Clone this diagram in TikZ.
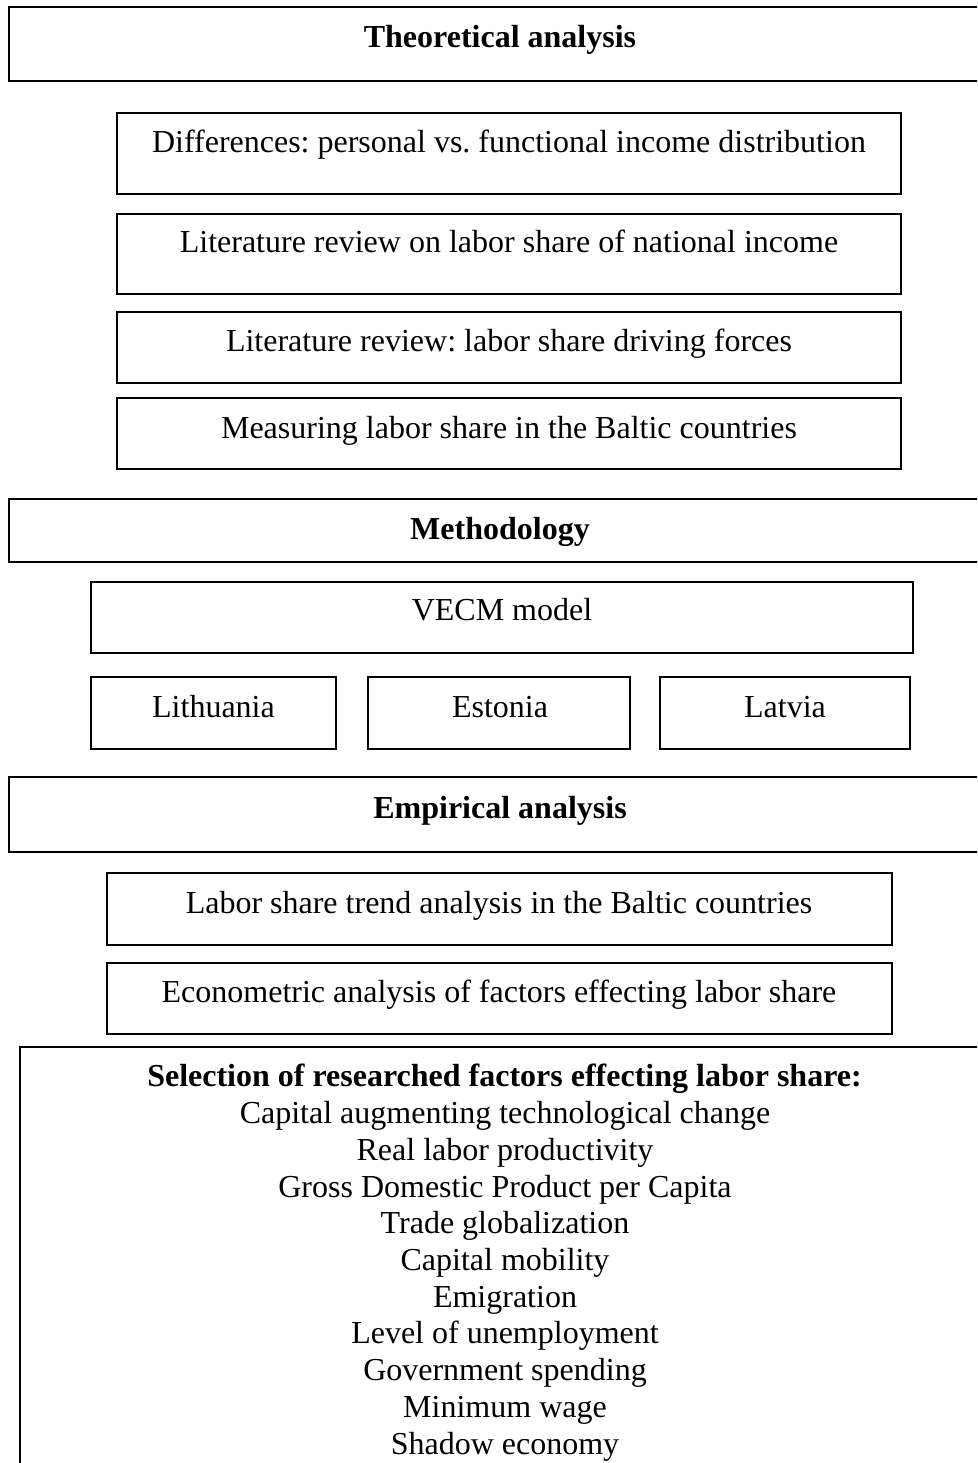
\documentclass[tikz,border=0pt]{standalone}
\usepackage{fontspec}
\setmainfont{Liberation Serif}
\usetikzlibrary{fit}
\frenchspacing
\begin{document}
\begin{tikzpicture}[x=1pt,y=-1pt,
  box/.style={draw=black, line width=1.4pt, inner sep=0pt, rectangle},
  txt/.style={inner sep=0pt, anchor=base, font=\fontsize{32}{36.7}\selectfont},
  hd/.style={txt, font=\fontsize{32}{36.7}\selectfont\bfseries}]
\useasboundingbox (0,0) rectangle (977,1463);
\clip (0,0) rectangle (977,1463);
% boxes
\node[box, fit={(9,7) (991,81)}] (bT) {};
\node[box, fit={(117,113) (901,194)}] (b1) {};
\node[box, fit={(117,214) (901,294)}] (b2) {};
\node[box, fit={(117,312) (901,383)}] (b3) {};
\node[box, fit={(117,398) (901,469)}] (b4) {};
\node[box, fit={(9,499) (991,562)}] (bM) {};
\node[box, fit={(91,582) (913,653)}] (bV) {};
\node[box, fit={(91,677) (336,749)}] (bLt) {};
\node[box, fit={(368,677) (630,749)}] (bEe) {};
\node[box, fit={(660,677) (910,749)}] (bLv) {};
\node[box, fit={(9,777) (991,852)}] (bE) {};
\node[box, fit={(107,873) (892,945)}] (b5) {};
\node[box, fit={(107,963) (892,1034)}] (b6) {};
\node[box, fit={(20,1047) (990,1490)}] (bS) {};
% texts
\node[hd] (tT) at (500,48) {Theoretical analysis};
\node[txt] (t1) at (509,153) {Differences: personal vs. functional income distribution};
\node[txt] (t2) at (509,253) {Literature review on labor share of national income};
\node[txt] (t3) at (509,351) {Literature review: labor share driving forces};
\node[txt] (t4) at (509,438) {Measuring labor share in the Baltic countries};
\node[hd] (tM) at (500,539) {Methodology};
\node[txt] (tV) at (502,620) {VECM model};
\node[txt] (tLt) at (213.5,717) {Lithuania};
\node[txt] (tEe) at (500,717) {Estonia};
\node[txt] (tLv) at (785,717) {Latvia};
\node[hd] (tE) at (500,818) {Empirical analysis};
\node[txt] (t5) at (499,913) {Labor share trend analysis in the Baltic countries};
\node[txt] (t6) at (499,1002) {Econometric analysis of factors effecting labor share};
\node[hd] (tS) at (504.5,1086) {Selection of researched factors effecting labor share:};
\foreach \t [count=\i] in {Capital augmenting technological change,
  Real labor productivity, Gross Domestic Product per Capita,
  Trade globalization, Capital mobility, Emigration,
  Level of unemployment, Government spending, Minimum wage,
  Shadow economy}
  \node[txt] (f\i) at (505,{1123.7+36.7*(\i-1)}) {\t};
\end{tikzpicture}
\end{document}
